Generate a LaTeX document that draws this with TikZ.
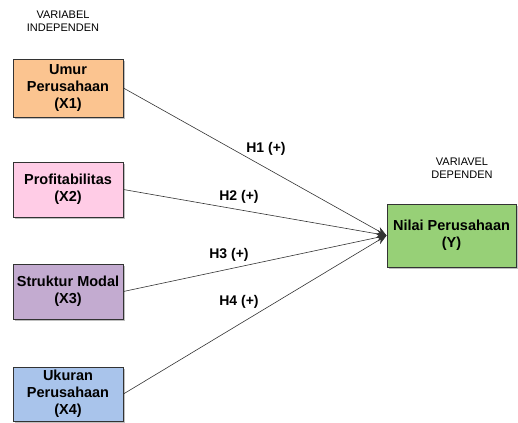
\documentclass[tikz,border=0pt]{standalone}
\usepackage{fontspec}
\setmainfont{Liberation Sans}
\usetikzlibrary{arrows.meta,shadows}
\definecolor{cOrange}{HTML}{FBC490}
\definecolor{cPink}{HTML}{FFCCE6}
\definecolor{cPurple}{HTML}{C3ABD0}
\definecolor{cBlue}{HTML}{A9C4EB}
\definecolor{cGreen}{HTML}{97D077}
\definecolor{cLine}{HTML}{333333}
\tikzset{
  varbox/.style={draw=cLine, line width=0.8pt, rectangle, align=center,
    inner sep=0pt, font=\fontsize{14.5}{17}\selectfont\bfseries,
    drop shadow={shadow xshift=2pt, shadow yshift=-2pt, opacity=0.25, fill=black}},
  grouplabel/.style={align=center, inner sep=0pt, font=\fontsize{11}{13}\selectfont},
  hyplabel/.style={inner sep=0pt, font=\fontsize{14}{17}\selectfont\bfseries},
  link/.style={draw=cLine, line width=0.6pt, -{Stealth[length=10pt,width=8pt]}}
}
\begin{document}
\begin{tikzpicture}[x=1pt,y=-1pt]
\useasboundingbox (0,0) rectangle (518,422);
\node[grouplabel] (indep) at (63,21.5) {VARIABEL\\INDEPENDEN};
\node[grouplabel] (dep) at (462,168) {VARIAVEL\\DEPENDEN};

\node[varbox, fill=cOrange, minimum width=110pt, minimum height=58pt] (x1) at (68,88) {Umur\\Perusahaan\\(X1)};
\node[varbox, fill=cPink, minimum width=110pt, minimum height=55pt] (x2) at (68,189.5) {Profitabilitas\\(X2)};
\node[varbox, fill=cPurple, minimum width=110pt, minimum height=55pt] (x3) at (68,291.5) {Struktur Modal\\(X3)};
\node[varbox, fill=cBlue, minimum width=110pt, minimum height=54pt] (x4) at (68,394) {Ukuran\\Perusahaan\\(X4)};
\node[varbox, fill=cGreen, minimum width=129pt, minimum height=63pt] (y) at (451.5,235.5) {Nilai Perusahaan\\(Y)};

\draw[link] (x1.east) -- (y.west);
\draw[link] (x2.east) -- (y.west);
\draw[link] (x3.east) -- (y.west);
\draw[link] (x4.east) -- (y.west);

\node[hyplabel] (h1) at (266,149) {H1 (+)};
\node[hyplabel] (h2) at (239,197) {H2 (+)};
\node[hyplabel] (h3) at (229,255) {H3 (+)};
\node[hyplabel] (h4) at (239,302) {H4 (+)};
\end{tikzpicture}
\end{document}
